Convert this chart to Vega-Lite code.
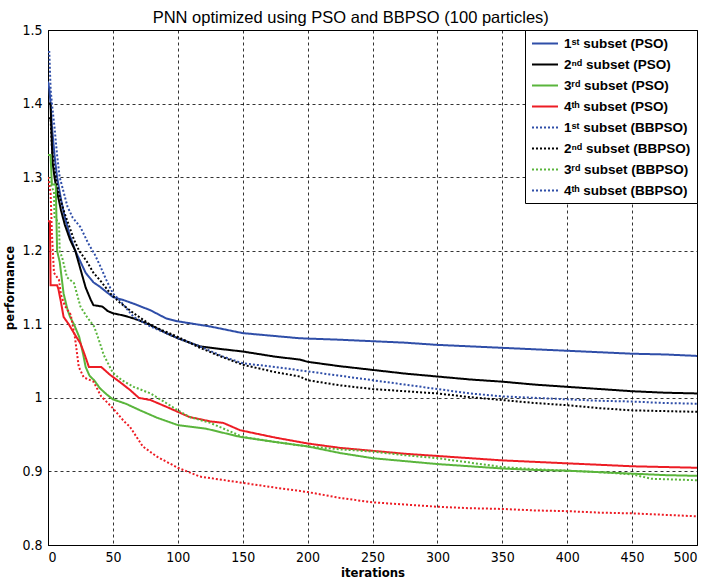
{
  "$schema": "https://vega.github.io/schema/vega-lite/v6.json",
  "width": 649,
  "height": 515,
  "autosize": "none",
  "padding": {"left": 48, "top": 30, "right": 11, "bottom": 35},
  "background": "white",
  "title": {"text": "PNN optimized using PSO and BBPSO (100 particles)", "font": "Liberation Sans, Arial, sans-serif", "fontSize": 16.5, "fontWeight": "normal", "color": "black", "offset": -3, "frame": "bounds", "anchor": "middle"},
  "config": {
    "view": {"stroke": "black", "strokeWidth": 1},
    "axis": {
      "grid": true, "gridColor": "black", "gridDash": [3, 3], "gridOpacity": 0.8, "gridWidth": 1,
      "domainColor": "black", "ticks": false,
      "labelFont": "Liberation Sans Narrow, Arial Narrow, DejaVu Sans Condensed, Liberation Sans, sans-serif", "labelFontSize": 14, "labelColor": "black",
      "titleFont": "Liberation Sans Narrow, Arial Narrow, DejaVu Sans Condensed, Liberation Sans, sans-serif", "titleFontSize": 13, "titleFontWeight": "bold", "titleColor": "black"
    },
    "legend": {
      "orient": "top-right", "offset": 0, "padding": 6,
      "fillColor": "white", "strokeColor": "black", "strokeWidth": 1,
      "labelFont": "Liberation Sans, Arial, sans-serif", "labelFontWeight": "bold", "labelFontSize": 13.5, "labelColor": "black",
      "symbolType": "M-1,0H3", "symbolSize": 169, "symbolStrokeWidth": 2,
      "labelOffset": 18, "rowPadding": 7
    }
  },
  "data": {"values": [
    {"s":"1ˢᵗ subset (PSO)","x":0,"y":1.43},{"s":"1ˢᵗ subset (PSO)","x":1,"y":1.42},{"s":"1ˢᵗ subset (PSO)","x":2,"y":1.40},{"s":"1ˢᵗ subset (PSO)","x":3,"y":1.37},{"s":"1ˢᵗ subset (PSO)","x":5,"y":1.33},{"s":"1ˢᵗ subset (PSO)","x":7,"y":1.30},{"s":"1ˢᵗ subset (PSO)","x":10,"y":1.27},{"s":"1ˢᵗ subset (PSO)","x":13,"y":1.245},{"s":"1ˢᵗ subset (PSO)","x":17,"y":1.22},{"s":"1ˢᵗ subset (PSO)","x":21,"y":1.20},{"s":"1ˢᵗ subset (PSO)","x":25,"y":1.185},{"s":"1ˢᵗ subset (PSO)","x":29,"y":1.17},{"s":"1ˢᵗ subset (PSO)","x":35,"y":1.157},{"s":"1ˢᵗ subset (PSO)","x":40,"y":1.151},{"s":"1ˢᵗ subset (PSO)","x":45,"y":1.144},{"s":"1ˢᵗ subset (PSO)","x":50,"y":1.137},{"s":"1ˢᵗ subset (PSO)","x":58,"y":1.133},{"s":"1ˢᵗ subset (PSO)","x":66,"y":1.128},{"s":"1ˢᵗ subset (PSO)","x":79,"y":1.119},{"s":"1ˢᵗ subset (PSO)","x":91,"y":1.108},{"s":"1ˢᵗ subset (PSO)","x":100,"y":1.104},{"s":"1ˢᵗ subset (PSO)","x":125,"y":1.097},{"s":"1ˢᵗ subset (PSO)","x":150,"y":1.088},{"s":"1ˢᵗ subset (PSO)","x":175,"y":1.084},{"s":"1ˢᵗ subset (PSO)","x":194,"y":1.081},{"s":"1ˢᵗ subset (PSO)","x":225,"y":1.079},{"s":"1ˢᵗ subset (PSO)","x":250,"y":1.077},{"s":"1ˢᵗ subset (PSO)","x":275,"y":1.075},{"s":"1ˢᵗ subset (PSO)","x":300,"y":1.072},{"s":"1ˢᵗ subset (PSO)","x":325,"y":1.070},{"s":"1ˢᵗ subset (PSO)","x":350,"y":1.068},{"s":"1ˢᵗ subset (PSO)","x":375,"y":1.066},{"s":"1ˢᵗ subset (PSO)","x":400,"y":1.064},{"s":"1ˢᵗ subset (PSO)","x":425,"y":1.062},{"s":"1ˢᵗ subset (PSO)","x":450,"y":1.060},{"s":"1ˢᵗ subset (PSO)","x":475,"y":1.059},{"s":"1ˢᵗ subset (PSO)","x":500,"y":1.057},

    {"s":"2ⁿᵈ subset (PSO)","x":0,"y":1.40},{"s":"2ⁿᵈ subset (PSO)","x":2,"y":1.40},{"s":"2ⁿᵈ subset (PSO)","x":2.5,"y":1.37},{"s":"2ⁿᵈ subset (PSO)","x":3.5,"y":1.32},{"s":"2ⁿᵈ subset (PSO)","x":5,"y":1.30},{"s":"2ⁿᵈ subset (PSO)","x":7,"y":1.28},{"s":"2ⁿᵈ subset (PSO)","x":10,"y":1.255},{"s":"2ⁿᵈ subset (PSO)","x":13,"y":1.235},{"s":"2ⁿᵈ subset (PSO)","x":17,"y":1.215},{"s":"2ⁿᵈ subset (PSO)","x":21,"y":1.20},{"s":"2ⁿᵈ subset (PSO)","x":25,"y":1.175},{"s":"2ⁿᵈ subset (PSO)","x":29,"y":1.15},{"s":"2ⁿᵈ subset (PSO)","x":33,"y":1.133},{"s":"2ⁿᵈ subset (PSO)","x":35,"y":1.126},{"s":"2ⁿᵈ subset (PSO)","x":42,"y":1.124},{"s":"2ⁿᵈ subset (PSO)","x":46,"y":1.118},{"s":"2ⁿᵈ subset (PSO)","x":50,"y":1.115},{"s":"2ⁿᵈ subset (PSO)","x":58,"y":1.112},{"s":"2ⁿᵈ subset (PSO)","x":66,"y":1.108},{"s":"2ⁿᵈ subset (PSO)","x":72,"y":1.104},{"s":"2ⁿᵈ subset (PSO)","x":79,"y":1.099},{"s":"2ⁿᵈ subset (PSO)","x":91,"y":1.088},{"s":"2ⁿᵈ subset (PSO)","x":100,"y":1.081},{"s":"2ⁿᵈ subset (PSO)","x":117,"y":1.070},{"s":"2ⁿᵈ subset (PSO)","x":135,"y":1.066},{"s":"2ⁿᵈ subset (PSO)","x":150,"y":1.063},{"s":"2ⁿᵈ subset (PSO)","x":175,"y":1.056},{"s":"2ⁿᵈ subset (PSO)","x":194,"y":1.052},{"s":"2ⁿᵈ subset (PSO)","x":200,"y":1.049},{"s":"2ⁿᵈ subset (PSO)","x":225,"y":1.043},{"s":"2ⁿᵈ subset (PSO)","x":250,"y":1.038},{"s":"2ⁿᵈ subset (PSO)","x":275,"y":1.033},{"s":"2ⁿᵈ subset (PSO)","x":300,"y":1.029},{"s":"2ⁿᵈ subset (PSO)","x":325,"y":1.025},{"s":"2ⁿᵈ subset (PSO)","x":350,"y":1.022},{"s":"2ⁿᵈ subset (PSO)","x":375,"y":1.018},{"s":"2ⁿᵈ subset (PSO)","x":400,"y":1.015},{"s":"2ⁿᵈ subset (PSO)","x":425,"y":1.012},{"s":"2ⁿᵈ subset (PSO)","x":450,"y":1.009},{"s":"2ⁿᵈ subset (PSO)","x":475,"y":1.007},{"s":"2ⁿᵈ subset (PSO)","x":500,"y":1.006},

    {"s":"3ʳᵈ subset (PSO)","x":0,"y":1.33},{"s":"3ʳᵈ subset (PSO)","x":2,"y":1.33},{"s":"3ʳᵈ subset (PSO)","x":3,"y":1.29},{"s":"3ʳᵈ subset (PSO)","x":6,"y":1.29},{"s":"3ʳᵈ subset (PSO)","x":7,"y":1.20},{"s":"3ʳᵈ subset (PSO)","x":9,"y":1.185},{"s":"3ʳᵈ subset (PSO)","x":12,"y":1.142},{"s":"3ʳᵈ subset (PSO)","x":15,"y":1.12},{"s":"3ʳᵈ subset (PSO)","x":17,"y":1.11},{"s":"3ʳᵈ subset (PSO)","x":20,"y":1.10},{"s":"3ʳᵈ subset (PSO)","x":24,"y":1.083},{"s":"3ʳᵈ subset (PSO)","x":27,"y":1.06},{"s":"3ʳᵈ subset (PSO)","x":29,"y":1.042},{"s":"3ʳᵈ subset (PSO)","x":32,"y":1.03},{"s":"3ʳᵈ subset (PSO)","x":35.5,"y":1.024},{"s":"3ʳᵈ subset (PSO)","x":40,"y":1.013},{"s":"3ʳᵈ subset (PSO)","x":45,"y":1.005},{"s":"3ʳᵈ subset (PSO)","x":50,"y":0.998},{"s":"3ʳᵈ subset (PSO)","x":60,"y":0.992},{"s":"3ʳᵈ subset (PSO)","x":71,"y":0.983},{"s":"3ʳᵈ subset (PSO)","x":84,"y":0.973},{"s":"3ʳᵈ subset (PSO)","x":100,"y":0.963},{"s":"3ʳᵈ subset (PSO)","x":122,"y":0.958},{"s":"3ʳᵈ subset (PSO)","x":148,"y":0.947},{"s":"3ʳᵈ subset (PSO)","x":175,"y":0.940},{"s":"3ʳᵈ subset (PSO)","x":200,"y":0.934},{"s":"3ʳᵈ subset (PSO)","x":225,"y":0.925},{"s":"3ʳᵈ subset (PSO)","x":250,"y":0.918},{"s":"3ʳᵈ subset (PSO)","x":275,"y":0.914},{"s":"3ʳᵈ subset (PSO)","x":300,"y":0.910},{"s":"3ʳᵈ subset (PSO)","x":325,"y":0.907},{"s":"3ʳᵈ subset (PSO)","x":350,"y":0.904},{"s":"3ʳᵈ subset (PSO)","x":375,"y":0.902},{"s":"3ʳᵈ subset (PSO)","x":400,"y":0.901},{"s":"3ʳᵈ subset (PSO)","x":425,"y":0.899},{"s":"3ʳᵈ subset (PSO)","x":450,"y":0.897},{"s":"3ʳᵈ subset (PSO)","x":475,"y":0.895},{"s":"3ʳᵈ subset (PSO)","x":500,"y":0.894},

    {"s":"4ᵗʰ subset (PSO)","x":0,"y":1.24},{"s":"4ᵗʰ subset (PSO)","x":1.5,"y":1.24},{"s":"4ᵗʰ subset (PSO)","x":2,"y":1.153},{"s":"4ᵗʰ subset (PSO)","x":7,"y":1.153},{"s":"4ᵗʰ subset (PSO)","x":8,"y":1.148},{"s":"4ᵗʰ subset (PSO)","x":10,"y":1.13},{"s":"4ᵗʰ subset (PSO)","x":12,"y":1.11},{"s":"4ᵗʰ subset (PSO)","x":14,"y":1.105},{"s":"4ᵗʰ subset (PSO)","x":16,"y":1.10},{"s":"4ᵗʰ subset (PSO)","x":20,"y":1.088},{"s":"4ᵗʰ subset (PSO)","x":25,"y":1.074},{"s":"4ᵗʰ subset (PSO)","x":28,"y":1.06},{"s":"4ᵗʰ subset (PSO)","x":31.5,"y":1.042},{"s":"4ᵗʰ subset (PSO)","x":41,"y":1.042},{"s":"4ᵗʰ subset (PSO)","x":48,"y":1.031},{"s":"4ᵗʰ subset (PSO)","x":55,"y":1.022},{"s":"4ᵗʰ subset (PSO)","x":63,"y":1.011},{"s":"4ᵗʰ subset (PSO)","x":70,"y":1.0},{"s":"4ᵗʰ subset (PSO)","x":79,"y":0.997},{"s":"4ᵗʰ subset (PSO)","x":91,"y":0.988},{"s":"4ᵗʰ subset (PSO)","x":100,"y":0.981},{"s":"4ᵗʰ subset (PSO)","x":109,"y":0.974},{"s":"4ᵗʰ subset (PSO)","x":125,"y":0.968},{"s":"4ᵗʰ subset (PSO)","x":135,"y":0.966},{"s":"4ᵗʰ subset (PSO)","x":148,"y":0.956},{"s":"4ᵗʰ subset (PSO)","x":175,"y":0.946},{"s":"4ᵗʰ subset (PSO)","x":200,"y":0.938},{"s":"4ᵗʰ subset (PSO)","x":225,"y":0.932},{"s":"4ᵗʰ subset (PSO)","x":250,"y":0.928},{"s":"4ᵗʰ subset (PSO)","x":275,"y":0.924},{"s":"4ᵗʰ subset (PSO)","x":300,"y":0.921},{"s":"4ᵗʰ subset (PSO)","x":325,"y":0.918},{"s":"4ᵗʰ subset (PSO)","x":350,"y":0.915},{"s":"4ᵗʰ subset (PSO)","x":375,"y":0.913},{"s":"4ᵗʰ subset (PSO)","x":400,"y":0.911},{"s":"4ᵗʰ subset (PSO)","x":425,"y":0.909},{"s":"4ᵗʰ subset (PSO)","x":450,"y":0.907},{"s":"4ᵗʰ subset (PSO)","x":475,"y":0.906},{"s":"4ᵗʰ subset (PSO)","x":500,"y":0.905},

    {"s":"1ˢᵗ subset (BBPSO)","x":0,"y":1.47},{"s":"1ˢᵗ subset (BBPSO)","x":1,"y":1.47},{"s":"1ˢᵗ subset (BBPSO)","x":2,"y":1.42},{"s":"1ˢᵗ subset (BBPSO)","x":3,"y":1.40},{"s":"1ˢᵗ subset (BBPSO)","x":5,"y":1.368},{"s":"1ˢᵗ subset (BBPSO)","x":7,"y":1.33},{"s":"1ˢᵗ subset (BBPSO)","x":9,"y":1.30},{"s":"1ˢᵗ subset (BBPSO)","x":12,"y":1.28},{"s":"1ˢᵗ subset (BBPSO)","x":15,"y":1.26},{"s":"1ˢᵗ subset (BBPSO)","x":19,"y":1.245},{"s":"1ˢᵗ subset (BBPSO)","x":25,"y":1.232},{"s":"1ˢᵗ subset (BBPSO)","x":31,"y":1.21},{"s":"1ˢᵗ subset (BBPSO)","x":36,"y":1.195},{"s":"1ˢᵗ subset (BBPSO)","x":40,"y":1.18},{"s":"1ˢᵗ subset (BBPSO)","x":45,"y":1.16},{"s":"1ˢᵗ subset (BBPSO)","x":50,"y":1.142},{"s":"1ˢᵗ subset (BBPSO)","x":55,"y":1.133},{"s":"1ˢᵗ subset (BBPSO)","x":66,"y":1.110},{"s":"1ˢᵗ subset (BBPSO)","x":79,"y":1.097},{"s":"1ˢᵗ subset (BBPSO)","x":100,"y":1.081},{"s":"1ˢᵗ subset (BBPSO)","x":117,"y":1.070},{"s":"1ˢᵗ subset (BBPSO)","x":135,"y":1.056},{"s":"1ˢᵗ subset (BBPSO)","x":150,"y":1.047},{"s":"1ˢᵗ subset (BBPSO)","x":175,"y":1.042},{"s":"1ˢᵗ subset (BBPSO)","x":200,"y":1.036},{"s":"1ˢᵗ subset (BBPSO)","x":225,"y":1.030},{"s":"1ˢᵗ subset (BBPSO)","x":250,"y":1.024},{"s":"1ˢᵗ subset (BBPSO)","x":275,"y":1.018},{"s":"1ˢᵗ subset (BBPSO)","x":300,"y":1.012},{"s":"1ˢᵗ subset (BBPSO)","x":325,"y":1.006},{"s":"1ˢᵗ subset (BBPSO)","x":350,"y":1.002},{"s":"1ˢᵗ subset (BBPSO)","x":375,"y":1.0},{"s":"1ˢᵗ subset (BBPSO)","x":400,"y":0.998},{"s":"1ˢᵗ subset (BBPSO)","x":425,"y":0.996},{"s":"1ˢᵗ subset (BBPSO)","x":450,"y":0.995},{"s":"1ˢᵗ subset (BBPSO)","x":475,"y":0.993},{"s":"1ˢᵗ subset (BBPSO)","x":500,"y":0.992},

    {"s":"2ⁿᵈ subset (BBPSO)","x":0,"y":1.38},{"s":"2ⁿᵈ subset (BBPSO)","x":2,"y":1.38},{"s":"2ⁿᵈ subset (BBPSO)","x":3,"y":1.34},{"s":"2ⁿᵈ subset (BBPSO)","x":5,"y":1.31},{"s":"2ⁿᵈ subset (BBPSO)","x":8,"y":1.28},{"s":"2ⁿᵈ subset (BBPSO)","x":12,"y":1.255},{"s":"2ⁿᵈ subset (BBPSO)","x":17,"y":1.23},{"s":"2ⁿᵈ subset (BBPSO)","x":20,"y":1.215},{"s":"2ⁿᵈ subset (BBPSO)","x":24,"y":1.20},{"s":"2ⁿᵈ subset (BBPSO)","x":30,"y":1.185},{"s":"2ⁿᵈ subset (BBPSO)","x":35,"y":1.17},{"s":"2ⁿᵈ subset (BBPSO)","x":40,"y":1.16},{"s":"2ⁿᵈ subset (BBPSO)","x":48,"y":1.142},{"s":"2ⁿᵈ subset (BBPSO)","x":55,"y":1.13},{"s":"2ⁿᵈ subset (BBPSO)","x":66,"y":1.115},{"s":"2ⁿᵈ subset (BBPSO)","x":80,"y":1.098},{"s":"2ⁿᵈ subset (BBPSO)","x":100,"y":1.083},{"s":"2ⁿᵈ subset (BBPSO)","x":117,"y":1.068},{"s":"2ⁿᵈ subset (BBPSO)","x":135,"y":1.055},{"s":"2ⁿᵈ subset (BBPSO)","x":150,"y":1.045},{"s":"2ⁿᵈ subset (BBPSO)","x":175,"y":1.035},{"s":"2ⁿᵈ subset (BBPSO)","x":194,"y":1.029},{"s":"2ⁿᵈ subset (BBPSO)","x":200,"y":1.024},{"s":"2ⁿᵈ subset (BBPSO)","x":225,"y":1.017},{"s":"2ⁿᵈ subset (BBPSO)","x":250,"y":1.012},{"s":"2ⁿᵈ subset (BBPSO)","x":275,"y":1.009},{"s":"2ⁿᵈ subset (BBPSO)","x":300,"y":1.006},{"s":"2ⁿᵈ subset (BBPSO)","x":325,"y":1.001},{"s":"2ⁿᵈ subset (BBPSO)","x":350,"y":0.997},{"s":"2ⁿᵈ subset (BBPSO)","x":375,"y":0.993},{"s":"2ⁿᵈ subset (BBPSO)","x":400,"y":0.990},{"s":"2ⁿᵈ subset (BBPSO)","x":425,"y":0.986},{"s":"2ⁿᵈ subset (BBPSO)","x":450,"y":0.983},{"s":"2ⁿᵈ subset (BBPSO)","x":475,"y":0.982},{"s":"2ⁿᵈ subset (BBPSO)","x":500,"y":0.981},

    {"s":"3ʳᵈ subset (BBPSO)","x":0,"y":1.30},{"s":"3ʳᵈ subset (BBPSO)","x":2,"y":1.29},{"s":"3ʳᵈ subset (BBPSO)","x":4.6,"y":1.28},{"s":"3ʳᵈ subset (BBPSO)","x":5,"y":1.246},{"s":"3ʳᵈ subset (BBPSO)","x":8.5,"y":1.237},{"s":"3ʳᵈ subset (BBPSO)","x":9,"y":1.20},{"s":"3ʳᵈ subset (BBPSO)","x":11,"y":1.19},{"s":"3ʳᵈ subset (BBPSO)","x":14.6,"y":1.164},{"s":"3ʳᵈ subset (BBPSO)","x":20,"y":1.156},{"s":"3ʳᵈ subset (BBPSO)","x":25,"y":1.124},{"s":"3ʳᵈ subset (BBPSO)","x":30,"y":1.11},{"s":"3ʳᵈ subset (BBPSO)","x":35.5,"y":1.097},{"s":"3ʳᵈ subset (BBPSO)","x":38,"y":1.085},{"s":"3ʳᵈ subset (BBPSO)","x":43,"y":1.058},{"s":"3ʳᵈ subset (BBPSO)","x":50,"y":1.034},{"s":"3ʳᵈ subset (BBPSO)","x":57,"y":1.024},{"s":"3ʳᵈ subset (BBPSO)","x":66,"y":1.015},{"s":"3ʳᵈ subset (BBPSO)","x":79,"y":1.006},{"s":"3ʳᵈ subset (BBPSO)","x":91,"y":0.993},{"s":"3ʳᵈ subset (BBPSO)","x":100,"y":0.983},{"s":"3ʳᵈ subset (BBPSO)","x":109,"y":0.974},{"s":"3ʳᵈ subset (BBPSO)","x":125,"y":0.966},{"s":"3ʳᵈ subset (BBPSO)","x":150,"y":0.947},{"s":"3ʳᵈ subset (BBPSO)","x":175,"y":0.940},{"s":"3ʳᵈ subset (BBPSO)","x":200,"y":0.934},{"s":"3ʳᵈ subset (BBPSO)","x":225,"y":0.930},{"s":"3ʳᵈ subset (BBPSO)","x":250,"y":0.927},{"s":"3ʳᵈ subset (BBPSO)","x":275,"y":0.922},{"s":"3ʳᵈ subset (BBPSO)","x":300,"y":0.918},{"s":"3ʳᵈ subset (BBPSO)","x":325,"y":0.912},{"s":"3ʳᵈ subset (BBPSO)","x":350,"y":0.906},{"s":"3ʳᵈ subset (BBPSO)","x":375,"y":0.903},{"s":"3ʳᵈ subset (BBPSO)","x":400,"y":0.901},{"s":"3ʳᵈ subset (BBPSO)","x":425,"y":0.899},{"s":"3ʳᵈ subset (BBPSO)","x":450,"y":0.896},{"s":"3ʳᵈ subset (BBPSO)","x":465,"y":0.890},{"s":"3ʳᵈ subset (BBPSO)","x":500,"y":0.888},

    {"s":"4ᵗʰ subset (BBPSO)","x":0,"y":1.30},{"s":"4ᵗʰ subset (BBPSO)","x":2,"y":1.278},{"s":"4ᵗʰ subset (BBPSO)","x":3,"y":1.224},{"s":"4ᵗʰ subset (BBPSO)","x":4.6,"y":1.17},{"s":"4ᵗʰ subset (BBPSO)","x":8.5,"y":1.16},{"s":"4ᵗʰ subset (BBPSO)","x":10,"y":1.14},{"s":"4ᵗʰ subset (BBPSO)","x":13,"y":1.125},{"s":"4ᵗʰ subset (BBPSO)","x":17.5,"y":1.113},{"s":"4ᵗʰ subset (BBPSO)","x":20.7,"y":1.083},{"s":"4ᵗʰ subset (BBPSO)","x":23.7,"y":1.042},{"s":"4ᵗʰ subset (BBPSO)","x":27.5,"y":1.028},{"s":"4ᵗʰ subset (BBPSO)","x":35,"y":1.022},{"s":"4ᵗʰ subset (BBPSO)","x":41,"y":1.002},{"s":"4ᵗʰ subset (BBPSO)","x":50,"y":0.986},{"s":"4ᵗʰ subset (BBPSO)","x":58.6,"y":0.968},{"s":"4ᵗʰ subset (BBPSO)","x":63,"y":0.961},{"s":"4ᵗʰ subset (BBPSO)","x":73,"y":0.934},{"s":"4ᵗʰ subset (BBPSO)","x":84,"y":0.920},{"s":"4ᵗʰ subset (BBPSO)","x":100,"y":0.905},{"s":"4ᵗʰ subset (BBPSO)","x":117,"y":0.893},{"s":"4ᵗʰ subset (BBPSO)","x":148,"y":0.885},{"s":"4ᵗʰ subset (BBPSO)","x":175,"y":0.878},{"s":"4ᵗʰ subset (BBPSO)","x":200,"y":0.872},{"s":"4ᵗʰ subset (BBPSO)","x":225,"y":0.864},{"s":"4ᵗʰ subset (BBPSO)","x":250,"y":0.858},{"s":"4ᵗʰ subset (BBPSO)","x":275,"y":0.855},{"s":"4ᵗʰ subset (BBPSO)","x":300,"y":0.852},{"s":"4ᵗʰ subset (BBPSO)","x":325,"y":0.850},{"s":"4ᵗʰ subset (BBPSO)","x":350,"y":0.849},{"s":"4ᵗʰ subset (BBPSO)","x":375,"y":0.847},{"s":"4ᵗʰ subset (BBPSO)","x":400,"y":0.846},{"s":"4ᵗʰ subset (BBPSO)","x":425,"y":0.844},{"s":"4ᵗʰ subset (BBPSO)","x":450,"y":0.843},{"s":"4ᵗʰ subset (BBPSO)","x":475,"y":0.841},{"s":"4ᵗʰ subset (BBPSO)","x":500,"y":0.839}
  ]},
  "encoding": {
    "x": {"field": "x", "type": "quantitative", "title": "iterations",
      "scale": {"domain": [0, 500], "nice": false, "zero": false},
      "axis": {"values": [0, 50, 100, 150, 200, 250, 300, 350, 400, 450, 500], "labelPadding": 5, "titlePadding": 2}},
    "y": {"field": "y", "type": "quantitative", "title": "performance",
      "scale": {"domain": [0.8, 1.5], "nice": false, "zero": false},
      "axis": {"values": [0.8, 0.9, 1.0, 1.1, 1.2, 1.3, 1.4, 1.5], "format": ".1~f", "labelPadding": 6, "titlePadding": 5}}
  },
  "layer": [
    {
      "mark": {"type": "line", "strokeWidth": 2, "clip": true},
      "encoding": {
        "color": {"field": "s", "type": "nominal", "legend": null,
          "scale": {
            "domain": ["1ˢᵗ subset (PSO)", "2ⁿᵈ subset (PSO)", "3ʳᵈ subset (PSO)", "4ᵗʰ subset (PSO)", "1ˢᵗ subset (BBPSO)", "2ⁿᵈ subset (BBPSO)", "3ʳᵈ subset (BBPSO)", "4ᵗʰ subset (BBPSO)"],
            "range": ["#2f4ea8", "#000000", "#5ab53c", "#ed1c24", "#2f4ea8", "#000000", "#5ab53c", "#ed1c24"]}},
        "strokeDash": {"field": "s", "type": "nominal", "legend": null,
          "scale": {
            "domain": ["1ˢᵗ subset (PSO)", "2ⁿᵈ subset (PSO)", "3ʳᵈ subset (PSO)", "4ᵗʰ subset (PSO)", "1ˢᵗ subset (BBPSO)", "2ⁿᵈ subset (BBPSO)", "3ʳᵈ subset (BBPSO)", "4ᵗʰ subset (BBPSO)"],
            "range": [[1, 0], [1, 0], [1, 0], [1, 0], [2, 2], [2, 2], [2, 2], [2, 2]]}}
      }
    },
    {
      "transform": [{"filter": "false"}],
      "mark": {"type": "line", "strokeWidth": 2, "clip": true},
      "encoding": {
        "color": {"field": "s", "type": "nominal", "title": null,
          "scale": {
            "domain": ["1ˢᵗ subset (PSO)", "2ⁿᵈ subset (PSO)", "3ʳᵈ subset (PSO)", "4ᵗʰ subset (PSO)", "1ˢᵗ subset (BBPSO)", "2ⁿᵈ subset (BBPSO)", "3ʳᵈ subset (BBPSO)", "4ᵗʰ subset (BBPSO)"],
            "range": ["#2f4ea8", "#000000", "#5ab53c", "#ed1c24", "#2f4ea8", "#000000", "#5ab53c", "#2f4ea8"]}},
        "strokeDash": {"field": "s", "type": "nominal", "title": null,
          "scale": {
            "domain": ["1ˢᵗ subset (PSO)", "2ⁿᵈ subset (PSO)", "3ʳᵈ subset (PSO)", "4ᵗʰ subset (PSO)", "1ˢᵗ subset (BBPSO)", "2ⁿᵈ subset (BBPSO)", "3ʳᵈ subset (BBPSO)", "4ᵗʰ subset (BBPSO)"],
            "range": [[1, 0], [1, 0], [1, 0], [1, 0], [2, 2], [2, 2], [2, 2], [2, 2]]}}
      }
    }
  ],
  "resolve": {"scale": {"color": "independent", "strokeDash": "independent"}}
}
